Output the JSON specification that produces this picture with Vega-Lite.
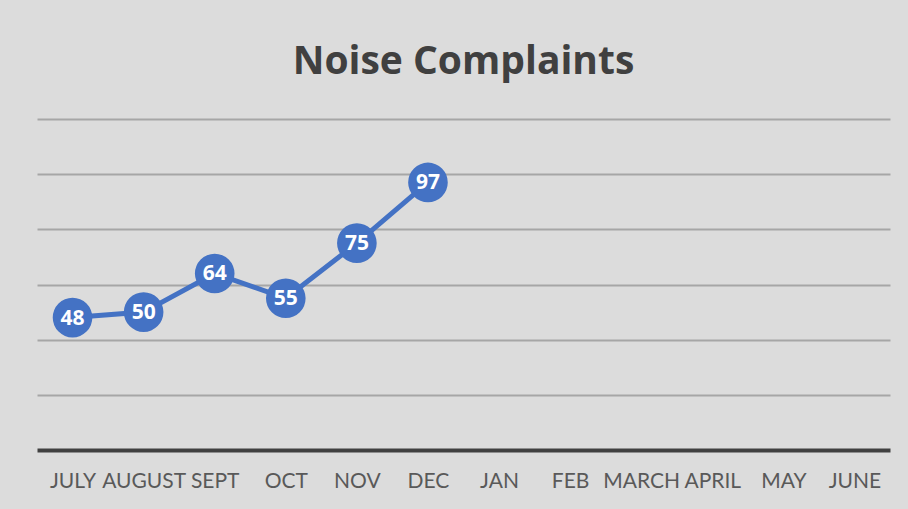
{
  "$schema": "https://vega.github.io/schema/vega-lite/v6.json",
  "width": 853,
  "height": 331,
  "autosize": "none",
  "padding": {"left": 37, "top": 119, "right": 18, "bottom": 59},
  "background": "#dcdcdc",
  "config": {"view": {"stroke": null}},
  "title": {
    "text": "Noise Complaints",
    "font": "Open Sans",
    "fontSize": 39,
    "fontWeight": "bold",
    "color": "#404040",
    "anchor": "middle",
    "baseline": "alphabetic",
    "offset": 6
  },
  "data": {
    "values": [
      {"month": "JULY", "complaints": 48},
      {"month": "AUGUST", "complaints": 50},
      {"month": "SEPT", "complaints": 64},
      {"month": "OCT", "complaints": 55},
      {"month": "NOV", "complaints": 75},
      {"month": "DEC", "complaints": 97}
    ]
  },
  "encoding": {
    "x": {
      "field": "month",
      "type": "nominal",
      "sort": null,
      "scale": {
        "type": "point",
        "padding": 0.5,
        "domain": ["JULY", "AUGUST", "SEPT", "OCT", "NOV", "DEC", "JAN", "FEB", "MARCH", "APRIL", "MAY", "JUNE"]
      },
      "axis": {
        "title": null,
        "labelAngle": 0,
        "labelFont": "Lato",
        "labelFontSize": 21,
        "labelColor": "#595959",
        "labelPadding": 20,
        "ticks": false,
        "domainColor": "#404040",
        "domainWidth": 4,
        "grid": false
      }
    },
    "y": {
      "field": "complaints",
      "type": "quantitative",
      "scale": {"domain": [0, 120], "nice": false},
      "axis": {
        "title": null,
        "labels": false,
        "ticks": false,
        "domain": false,
        "values": [20, 40, 60, 80, 100, 120],
        "grid": true,
        "gridColor": "#a6a6a6",
        "gridWidth": 2
      }
    }
  },
  "layer": [
    {"mark": {"type": "line", "color": "#4472C4", "strokeWidth": 5}},
    {"mark": {"type": "point", "filled": true, "color": "#4472C4", "opacity": 1, "size": 1570, "shape": "circle"}},
    {
      "mark": {"type": "text", "color": "white", "font": "Open Sans", "fontSize": 21, "fontWeight": "bold", "baseline": "middle", "dy": 1},
      "encoding": {"text": {"field": "complaints", "type": "quantitative"}}
    }
  ]
}
